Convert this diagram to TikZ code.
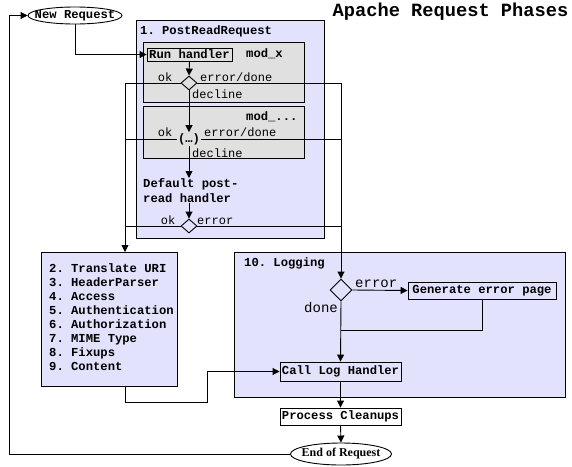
\documentclass[tikz,border=0pt]{standalone}
\usepackage{fontspec}
\setmonofont{Liberation Mono}
\newfontfamily\serifb{Liberation Serif}
\usetikzlibrary{arrows.meta,shapes.geometric}
\definecolor{lav}{RGB}{226,226,252}
\definecolor{gry}{RGB}{224,224,224}
\begin{document}
\begin{tikzpicture}[x=1pt,y=-1pt,
  bx/.style={draw,line width=1pt,inner sep=0pt,anchor=north west},
  bf/.style={font=\ttfamily\bfseries\fontsize{12.2}{14}\selectfont,inner sep=0pt},
  lab/.style={font=\ttfamily\fontsize{12}{14}\selectfont,inner sep=0pt},
  biglab/.style={font=\ttfamily\fontsize{14}{16}\selectfont,inner sep=0pt},
  tbox/.style={bf,draw,line width=0.9pt},
  arr/.style={-{Triangle[length=7pt,width=7pt]}},
  ln/.style={line width=0.9pt},
  dia/.style={diamond,draw,inner sep=0pt,minimum width=16pt,minimum height=14pt,line width=0.9pt},
  ell/.style={ellipse,draw,inner sep=0pt,line width=0.9pt}
]
\useasboundingbox[fill=white] (0,0) rectangle (572,466);

% boxes
\node[bx,fill=lav,minimum width=188pt,minimum height=218pt] (prr) at (136,20) {};
\node[bx,fill=gry,minimum width=161pt,minimum height=60pt] (gx) at (143,42) {};
\node[bx,fill=gry,minimum width=161pt,minimum height=52pt] (gdots) at (143,106) {};
\node[bx,fill=lav,minimum width=136pt,minimum height=134pt] (listbox) at (41,252) {};
\node[bx,fill=lav,minimum width=331pt,minimum height=145pt] (logbox) at (234,252) {};

% title
\node[font=\ttfamily\bfseries\fontsize{18.7}{20}\selectfont,inner sep=0pt] (title) at (450.5,12) {Apache Request Phases};

% start
\node[ell,minimum width=94pt,minimum height=17pt] (newreq) at (75,15.5) {};
\node[bf] (newreqt) at (newreq) {New Request};

% phase 1
\node[bf,anchor=west] (t1) at (140,31) {1. PostReadRequest};
\node[tbox,minimum width=85pt,minimum height=13pt] (run) at (189.5,54.5) {Run handler};
\node[bf,anchor=west] (mx) at (246,54) {mod\_x};
\node[dia] (d1) at (189,83) {};
\node[lab,anchor=base] (ok1) at (165,81) {ok};
\node[lab,anchor=base west] (ed1) at (200,81) {error/done};
\node[lab,anchor=base west] (dc1) at (192,98) {decline};
\node[bf,anchor=west] (mdots) at (246,117) {mod\_...};
\node[bf,inner sep=1pt] (dots) at (189,139) {(…)};
\node[lab,anchor=base] (ok2) at (165,136) {ok};
\node[lab,anchor=base west] (ed2) at (204,136) {error/done};
\node[lab,anchor=base west] (dc2) at (192,157) {decline};
\node[bf,anchor=north west,align=left,font=\ttfamily\bfseries\fontsize{12.2}{15}\selectfont] (def) at (143,178) {Default post-\\read handler};
\node[dia] (d3) at (189,226) {};
\node[lab,anchor=base] (ok3) at (168,224) {ok};
\node[lab,anchor=base west] (er3) at (197,224) {error};

% phases 2-9
\node[bf,anchor=north west,align=left] (lst) at (49,263) {2. Translate URI\\3. HeaderParser\\4. Access\\5. Authentication\\6. Authorization\\7. MIME Type\\8. Fixups\\9. Content};

% logging
\node[bf,anchor=west] (t10) at (244,263) {10. Logging};
\node[dia,minimum width=22pt,minimum height=22pt] (d4) at (341,290) {};
\node[tbox,minimum width=148pt,minimum height=17pt] (gen) at (482,290.5) {Generate error page};
\node[biglab,anchor=base west] (er4) at (355,287) {error};
\node[biglab,anchor=east] (dn4) at (338,308) {done};
\node[tbox,minimum width=121pt,minimum height=19pt] (call) at (340.5,371.5) {Call Log Handler};
\node[tbox,minimum width=121pt,minimum height=17pt] (clean) at (340.5,416.5) {Process Cleanups};
\node[ell,minimum width=101pt,minimum height=22pt] (endr) at (341,454) {};
\node[font=\serifb\bfseries\fontsize{12}{14}\selectfont,inner sep=0pt] (endrt) at (endr) {End of Request};

% helper coordinates
\coordinate (okcol) at (125,0);
\coordinate (errcol) at (341,0);
\coordinate (lc) at (9,0);
\coordinate (j1) at (207,402);
\coordinate (m) at (341,330);

% connectors
\draw[ln,arr] (newreq.south) |- (run.west);
\draw[ln,arr] (run.south) -- (d1.north);
\draw[ln,arr] (d1.south) -- (dots.north);
\draw[ln] (d1.west) -- (d1.west -| okcol);
\draw[ln] (d1.east) -- (d1.east -| errcol);
\draw[ln] (dots.west) -- (dots.west -| okcol);
\draw[ln] (dots.east) -- (dots.east -| errcol);
\draw[ln] (d3.west) -- (d3.west -| okcol);
\draw[ln] (d3.east) -- (d3.east -| errcol);
\draw[ln,arr] (d1.west -| okcol) -- (listbox.north -| okcol);
\draw[ln,arr] (d1.east -| errcol) -- (d4.north);
\draw[ln,arr] (dots.south) -- (dots.south |- def.north);
\draw[ln,arr] (dots.south |- def.south) -- (d3.north);
\draw[ln,arr] (d4.east) -- (gen.west);
\draw[ln,arr] (d4.south) -- (call.north);
\draw[ln] (gen.south) |- (m);
\draw[ln,arr] (listbox.south -| okcol) |- (j1) |- (call.west);
\draw[ln,arr] (call.south) -- (clean.north);
\draw[ln,arr] (clean.south) -- (endr.north);
\draw[ln,arr] (endr.west) -- (endr.west -| lc) -- (newreq.west -| lc) -- (newreq.west);
\end{tikzpicture}
\end{document}
